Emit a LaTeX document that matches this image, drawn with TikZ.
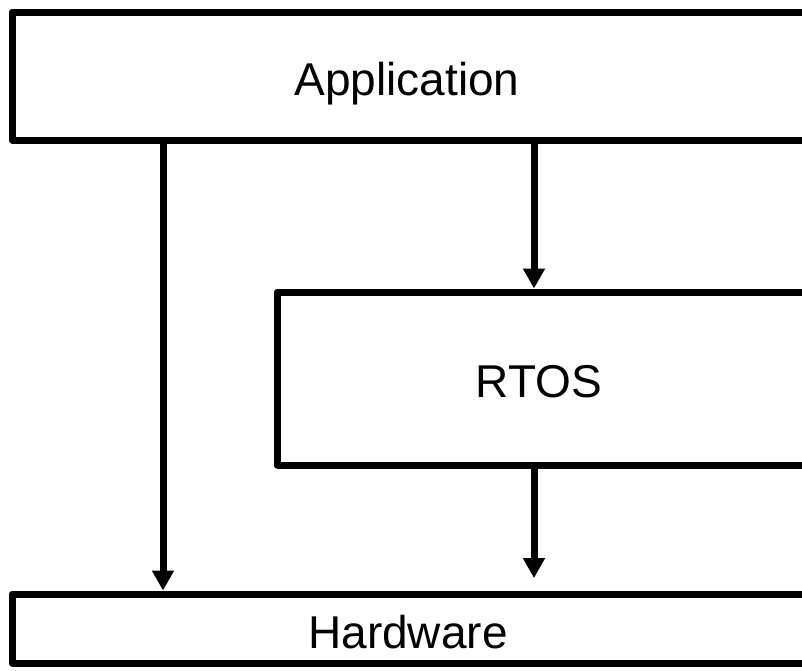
\documentclass[tikz,border=0pt]{standalone}
\usepackage{fontspec}
\setmainfont{Liberation Sans}
\usetikzlibrary{arrows.meta}
\begin{document}
\begin{tikzpicture}[x=1pt,y=-1pt,
  box/.style={draw=black,line width=7pt,line join=round,inner sep=0pt,fill=white},
  lbl/.style={anchor=base,inner sep=0pt,font=\fontsize{46pt}{50pt}\selectfont},
  arr/.style={line width=7pt,-{Triangle[width=21pt,length=20pt]}}]
\useasboundingbox (0,0) rectangle (802,670);
\clip (0,0) rectangle (802,670);
\node[box,minimum width=808pt,minimum height=128pt] (app) at (416,76) {};
\node[box,minimum width=541pt,minimum height=173pt] (rtos) at (547.5,378.5) {};
\node[box,minimum width=808pt,minimum height=69pt] (hw) at (416,628.5) {};
\node[lbl] (tapp) at (407,95) {Application};
\node[lbl] (trtos) at (539,397) {RTOS};
\node[lbl] (thw) at (408,648) {Hardware};
\coordinate (xl) at (163,0);
\coordinate (xm) at (534,0);
\coordinate (c3) at (534,578);
\draw[arr] (app.south -| xl) -- (hw.north -| xl);
\draw[arr] (app.south -| xm) -- (rtos.north -| xm);
\draw[arr] (rtos.south -| xm) -- (c3);
\end{tikzpicture}
\end{document}
